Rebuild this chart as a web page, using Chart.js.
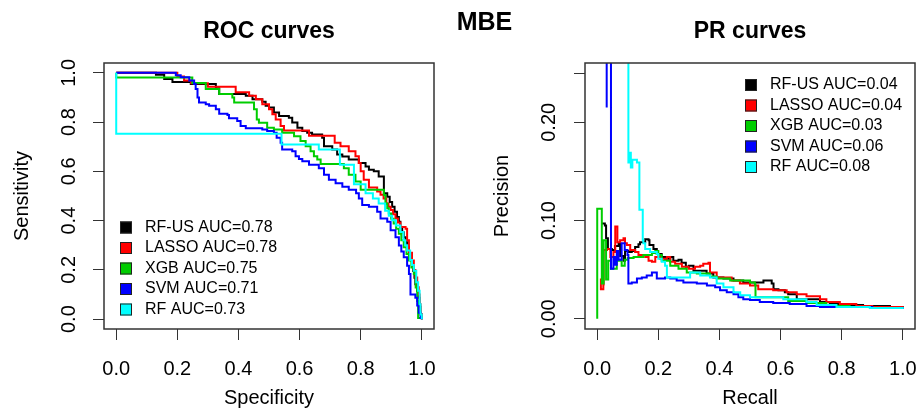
<!DOCTYPE html>
<html>
<head>
<meta charset="utf-8">
<script src="https://cdn.jsdelivr.net/npm/chart.js@4.4.1/dist/chart.umd.min.js"></script>
<style>
html, body { margin:0; padding:0; background:#fff; overflow:hidden; width:918px; height:411px; }
#roc_box { position:absolute; left:0; top:0; width:470px; height:411px; }
#pr_box { position:absolute; left:459px; top:0; width:492px; height:411px; }
#main_title { position:absolute; left:434px; top:9px; width:101px; text-align:center;
  font: bold 25px/25px "Liberation Sans", Arial, sans-serif; color:#000; }
</style>
</head>
<body>
<div id="roc_box"><canvas id="roc_chart" width="470" height="411"></canvas></div>
<div id="pr_box"><canvas id="pr_chart" width="492" height="411"></canvas></div>
<div id="main_title">MBE</div>
<script>
var models = ["RF-US", "LASSO", "XGB", "SVM", "RF"];
var colors = ["#000000", "#FF0000", "#00CD00", "#0000FF", "#00FFFF"];
var rocAUC = [0.78, 0.78, 0.75, 0.71, 0.73];
var prAUC = [0.04, 0.04, 0.03, 0.06, 0.08];

var xTicks = [0, 0.2, 0.4, 0.6, 0.8, 1.0];
var xTickLabels = ["0.0", "0.2", "0.4", "0.6", "0.8", "1.0"];
var rocYTicks = [0, 0.2, 0.4, 0.6, 0.8, 1.0];
var rocYTickLabels = ["0.0", "0.2", "0.4", "0.6", "0.8", "1.0"];
var prYTicks = [0, 0.05, 0.10, 0.15, 0.20, 0.25];
var prYTickLabels = ["0.00", "", "0.10", "", "0.20", ""];

// ROC curves: [specificity, sensitivity]
var rocRFUS = [[0,1],[0.13,0.992],[0.157,0.975],[0.184,0.963],[0.244,0.955],[0.326,0.937],[0.337,0.914],[0.424,0.907],[0.446,0.893],[0.478,0.883],[0.489,0.866],[0.5,0.859],[0.516,0.839],[0.533,0.825],[0.565,0.818],[0.576,0.798],[0.593,0.777],[0.609,0.764],[0.625,0.757],[0.641,0.75],[0.674,0.736],[0.68,0.702],[0.707,0.689],[0.723,0.668],[0.74,0.66],[0.761,0.648],[0.794,0.634],[0.816,0.62],[0.827,0.607],[0.843,0.6],[0.859,0.579],[0.876,0.572],[0.876,0.511],[0.887,0.497],[0.895,0.476],[0.903,0.456],[0.911,0.436],[0.919,0.415],[0.925,0.395],[0.93,0.374],[0.936,0.353],[0.941,0.333],[0.947,0.312],[0.952,0.292],[0.958,0.268],[0.963,0.245],[0.968,0.22],[0.972,0.195],[0.976,0.168],[0.979,0.142],[0.985,0.114],[0.99,0.087],[0.993,0.05],[0.996,0.019],[1,0]];
var rocLASSO = [[0,1],[0.19,1],[0.2,0.985],[0.222,0.969],[0.245,0.958],[0.3,0.944],[0.391,0.921],[0.435,0.907],[0.457,0.893],[0.478,0.873],[0.5,0.852],[0.511,0.832],[0.522,0.811],[0.538,0.784],[0.549,0.766],[0.631,0.745],[0.715,0.716],[0.734,0.702],[0.761,0.682],[0.783,0.661],[0.794,0.634],[0.8,0.6],[0.81,0.566],[0.827,0.535],[0.854,0.518],[0.865,0.505],[0.875,0.49],[0.884,0.47],[0.891,0.456],[0.898,0.443],[0.906,0.426],[0.914,0.409],[0.922,0.392],[0.93,0.374],[0.947,0.367],[0.952,0.32],[0.958,0.27],[0.968,0.238],[0.974,0.2],[0.979,0.169],[0.985,0.13],[0.99,0.1],[0.993,0.06],[0.996,0.02],[1,0]];
var rocXGB = [[0,1],[0,0.981],[0.249,0.959],[0.293,0.934],[0.337,0.914],[0.38,0.9],[0.386,0.88],[0.451,0.852],[0.46,0.811],[0.467,0.797],[0.494,0.777],[0.516,0.77],[0.543,0.757],[0.582,0.743],[0.603,0.723],[0.62,0.702],[0.636,0.682],[0.647,0.661],[0.658,0.648],[0.669,0.63],[0.745,0.613],[0.761,0.586],[0.783,0.559],[0.8,0.525],[0.876,0.504],[0.881,0.47],[0.887,0.45],[0.892,0.429],[0.9,0.408],[0.908,0.388],[0.916,0.367],[0.925,0.347],[0.933,0.32],[0.941,0.292],[0.95,0.265],[0.958,0.238],[0.966,0.21],[0.974,0.183],[0.98,0.128],[0.985,0.074],[0.988,0.005],[1,0]];
var rocSVM = [[0,1],[0.184,1],[0.195,0.99],[0.211,0.982],[0.239,0.969],[0.255,0.955],[0.26,0.934],[0.266,0.9],[0.271,0.88],[0.293,0.873],[0.304,0.866],[0.326,0.852],[0.337,0.834],[0.364,0.829],[0.369,0.816],[0.396,0.805],[0.407,0.784],[0.424,0.775],[0.478,0.77],[0.494,0.764],[0.516,0.757],[0.525,0.736],[0.538,0.716],[0.543,0.689],[0.576,0.682],[0.587,0.661],[0.598,0.65],[0.609,0.641],[0.631,0.627],[0.663,0.613],[0.68,0.586],[0.696,0.566],[0.718,0.552],[0.74,0.538],[0.761,0.525],[0.785,0.511],[0.794,0.49],[0.805,0.463],[0.827,0.456],[0.854,0.436],[0.865,0.409],[0.887,0.395],[0.898,0.361],[0.914,0.333],[0.925,0.299],[0.933,0.275],[0.941,0.251],[0.952,0.217],[0.958,0.183],[0.963,0.156],[0.963,0.1],[0.979,0.087],[0.985,0.055],[0.99,0.026],[0.996,0.005],[1,0]];
var rocRF = [[0,1],[0,0.753],[0.541,0.709],[0.663,0.689],[0.732,0.627],[0.778,0.548],[0.816,0.511],[0.84,0.49],[0.859,0.47],[0.88,0.44],[0.892,0.42],[0.903,0.402],[0.915,0.38],[0.93,0.354],[0.94,0.32],[0.946,0.3],[0.952,0.279],[0.962,0.24],[0.968,0.22],[0.974,0.197],[0.982,0.15],[0.988,0.115],[0.993,0.06],[0.996,0.019],[1,0]];

// PR curves: [recall, precision]
var prRFUS = [[0.015,0.097],[0.025,0.095],[0.029,0.082],[0.035,0.071],[0.048,0.07],[0.058,0.074],[0.07,0.077],[0.075,0.064],[0.086,0.059],[0.091,0.069],[0.102,0.068],[0.113,0.069],[0.124,0.073],[0.135,0.076],[0.14,0.078],[0.157,0.081],[0.168,0.08],[0.171,0.075],[0.184,0.071],[0.195,0.066],[0.211,0.063],[0.222,0.061],[0.239,0.063],[0.249,0.059],[0.266,0.06],[0.276,0.057],[0.29,0.053],[0.3,0.054],[0.315,0.049],[0.358,0.046],[0.38,0.042],[0.413,0.041],[0.446,0.039],[0.478,0.037],[0.528,0.037],[0.544,0.039],[0.559,0.039],[0.571,0.036],[0.577,0.03],[0.593,0.029],[0.614,0.027],[0.625,0.025],[0.653,0.02],[0.685,0.02],[0.729,0.017],[0.761,0.015],[0.794,0.014],[0.87,0.013],[0.958,0.012],[1,0.01]];
var prLASSO = [[0.012,0.041],[0.012,0.03],[0.02,0.035],[0.021,0.07],[0.032,0.071],[0.043,0.063],[0.053,0.068],[0.059,0.094],[0.066,0.094],[0.066,0.078],[0.075,0.08],[0.086,0.082],[0.091,0.077],[0.097,0.075],[0.108,0.07],[0.124,0.068],[0.135,0.065],[0.157,0.063],[0.168,0.059],[0.179,0.058],[0.19,0.063],[0.206,0.061],[0.228,0.063],[0.239,0.058],[0.255,0.056],[0.277,0.053],[0.299,0.051],[0.32,0.053],[0.337,0.054],[0.347,0.056],[0.364,0.057],[0.369,0.047],[0.391,0.042],[0.413,0.042],[0.44,0.039],[0.467,0.036],[0.5,0.034],[0.527,0.03],[0.576,0.029],[0.62,0.027],[0.653,0.025],[0.685,0.023],[0.729,0.02],[0.75,0.017],[0.794,0.015],[0.848,0.013],[0.9,0.012],[0.935,0.012],[1,0.01]];
var prXGB = [[0,0],[0,0.112],[0.015,0.112],[0.015,0.036],[0.021,0.036],[0.021,0.08],[0.029,0.08],[0.029,0.04],[0.036,0.04],[0.036,0.059],[0.045,0.059],[0.045,0.051],[0.059,0.051],[0.064,0.059],[0.08,0.059],[0.08,0.054],[0.09,0.06],[0.1,0.062],[0.119,0.063],[0.151,0.065],[0.179,0.067],[0.19,0.069],[0.2,0.065],[0.211,0.059],[0.239,0.054],[0.266,0.051],[0.293,0.047],[0.326,0.046],[0.369,0.043],[0.391,0.041],[0.435,0.039],[0.467,0.039],[0.5,0.037],[0.516,0.035],[0.518,0.022],[0.625,0.018],[0.685,0.016],[0.75,0.013],[0.826,0.012],[0.9,0.011],[1,0.01]];
var prSVM = [[0.031,0.215],[0.031,0.3],[0.045,0.3],[0.045,0.051],[0.053,0.063],[0.058,0.055],[0.064,0.069],[0.07,0.06],[0.08,0.077],[0.086,0.077],[0.09,0.07],[0.099,0.065],[0.102,0.036],[0.113,0.037],[0.13,0.041],[0.146,0.042],[0.162,0.044],[0.179,0.047],[0.19,0.047],[0.195,0.041],[0.222,0.042],[0.239,0.041],[0.26,0.039],[0.282,0.037],[0.304,0.037],[0.326,0.036],[0.359,0.034],[0.386,0.032],[0.402,0.029],[0.424,0.027],[0.446,0.025],[0.462,0.022],[0.478,0.02],[0.5,0.019],[0.532,0.017],[0.576,0.016],[0.63,0.015],[0.685,0.013],[0.729,0.012],[0.794,0.012],[0.9,0.011],[1,0.01]];
var prRF = [[0.102,0.3],[0.102,0.159],[0.105,0.169],[0.11,0.154],[0.115,0.162],[0.13,0.159],[0.138,0.159],[0.138,0.111],[0.149,0.107],[0.149,0.08],[0.151,0.077],[0.157,0.071],[0.173,0.068],[0.195,0.066],[0.2,0.061],[0.211,0.058],[0.222,0.054],[0.228,0.042],[0.282,0.042],[0.304,0.047],[0.337,0.044],[0.369,0.042],[0.391,0.036],[0.413,0.032],[0.446,0.027],[0.468,0.024],[0.5,0.022],[0.565,0.022],[0.609,0.02],[0.653,0.02],[0.685,0.017],[0.718,0.014],[0.783,0.012],[0.892,0.011],[1,0.0099]];

var rocCurves = [rocRFUS, rocLASSO, rocXGB, rocSVM, rocRF];
var prCurves = [prRFUS, prLASSO, prXGB, prSVM, prRF];

var fontFamily = '"Liberation Sans", Arial, sans-serif';

// R style box, panel title and legend
var rPanel = {
    id: "rPanel",
    afterDraw: function(chart, args, opts) {
        var ctx = chart.ctx;
        var a = chart.chartArea;
        ctx.save();
        ctx.strokeStyle = "#333";
        ctx.lineWidth = 1.5;
        ctx.strokeRect(a.left, a.top, a.right - a.left, a.bottom - a.top);

        ctx.fillStyle = "#000";
        ctx.font = "bold 23px " + fontFamily;
        ctx.textAlign = "center";
        ctx.textBaseline = "middle";
        ctx.fillText(opts.title, (a.left + a.right) / 2, opts.titleY);

        ctx.font = "16px " + fontFamily;
        ctx.textAlign = "left";
        chart.data.datasets.forEach(function(ds, i) {
            var x = a.left + opts.legendLeft;
            var y = a.top + opts.legendTop + i * opts.legendStep;
            ctx.fillStyle = ds.borderColor;
            ctx.fillRect(x, y - 6, 12, 12);
            ctx.strokeStyle = "#222";
            ctx.lineWidth = 1;
            ctx.strokeRect(x + 0.5, y - 5.5, 11, 11);
            ctx.fillStyle = "#000";
            ctx.fillText(ds.label, x + 25, y);
        });
        ctx.restore();
    }
};

function makeDatasets(curves, aucs) {
    return curves.map(function(curve, i) {
        return {
            label: models[i] + " AUC=" + aucs[i].toFixed(2),
            data: curve.map(function(p) { return {x: p[0], y: p[1]}; }),
            borderColor: colors[i],
            backgroundColor: colors[i],
            borderWidth: 2,
            pointRadius: 0,
            stepped: true,
            fill: false,
            order: curves.length - i
        };
    });
}

function makeAxis(opt) {
    return {
        type: "linear",
        min: opt.min,
        max: opt.max,
        afterBuildTicks: function(scale) {
            scale.ticks = opt.ticks.map(function(v) { return {value: v}; });
        },
        afterFit: function(scale) {
            if (scale.isHorizontal()) scale.height = opt.size;
            else scale.width = opt.size;
        },
        ticks: {
            autoSkip: false,
            minRotation: opt.rotation,
            maxRotation: opt.rotation,
            crossAlign: "center",
            padding: opt.padding,
            color: "#000",
            font: {family: fontFamily, size: 20},
            callback: function(value, index) { return opt.labels[index]; }
        },
        grid: {
            drawOnChartArea: false,
            drawTicks: true,
            tickLength: 11,
            color: "#333",
            lineWidth: 1
        },
        border: {display: false},
        title: {
            display: true,
            text: opt.title,
            color: "#000",
            font: {family: fontFamily, size: 20},
            padding: opt.titlePadding
        }
    };
}

var baseOptions = function(panel, xAxis, yAxis, right) {
    return {
        responsive: false,
        animation: false,
        layout: {padding: {top: 63, right: right, bottom: 0, left: 0}},
        scales: {x: xAxis, y: yAxis},
        plugins: {
            legend: {display: false},
            tooltip: {enabled: false},
            rPanel: panel
        }
    };
};

var chart_roc = new Chart(document.getElementById("roc_chart"), {
    type: "line",
    data: {datasets: makeDatasets(rocCurves, rocAUC)},
    plugins: [rPanel],
    options: baseOptions(
        {title: "ROC curves", titleY: 32, legendLeft: 16, legendTop: 164.5, legendStep: 20.5},
        makeAxis({min: -0.04, max: 1.04, ticks: xTicks, labels: xTickLabels, size: 82, rotation: 0,
                  padding: 29, title: "Specificity", titlePadding: {top: 0, bottom: 1}}),
        makeAxis({min: -0.04, max: 1.04, ticks: rocYTicks, labels: rocYTickLabels, size: 104, rotation: 90,
                  padding: 9.6, title: "Sensitivity", titlePadding: {top: 10, bottom: 0}}),
        36)
});

var chart_pr = new Chart(document.getElementById("pr_chart"), {
    type: "line",
    data: {datasets: makeDatasets(prCurves, prAUC)},
    plugins: [rPanel],
    options: baseOptions(
        {title: "PR curves", titleY: 32, legendLeft: 160, legendTop: 22, legendStep: 20.5},
        makeAxis({min: -0.04, max: 1.04, ticks: xTicks, labels: xTickLabels, size: 82, rotation: 0,
                  padding: 29, title: "Recall", titlePadding: {top: 0, bottom: 1}}),
        makeAxis({min: -0.0104, max: 0.2604, ticks: prYTicks, labels: prYTickLabels, size: 126, rotation: 90,
                  padding: 5, title: "Precision", titlePadding: {top: 31, bottom: 0}}),
        36)
});
</script>
</body>
</html>
